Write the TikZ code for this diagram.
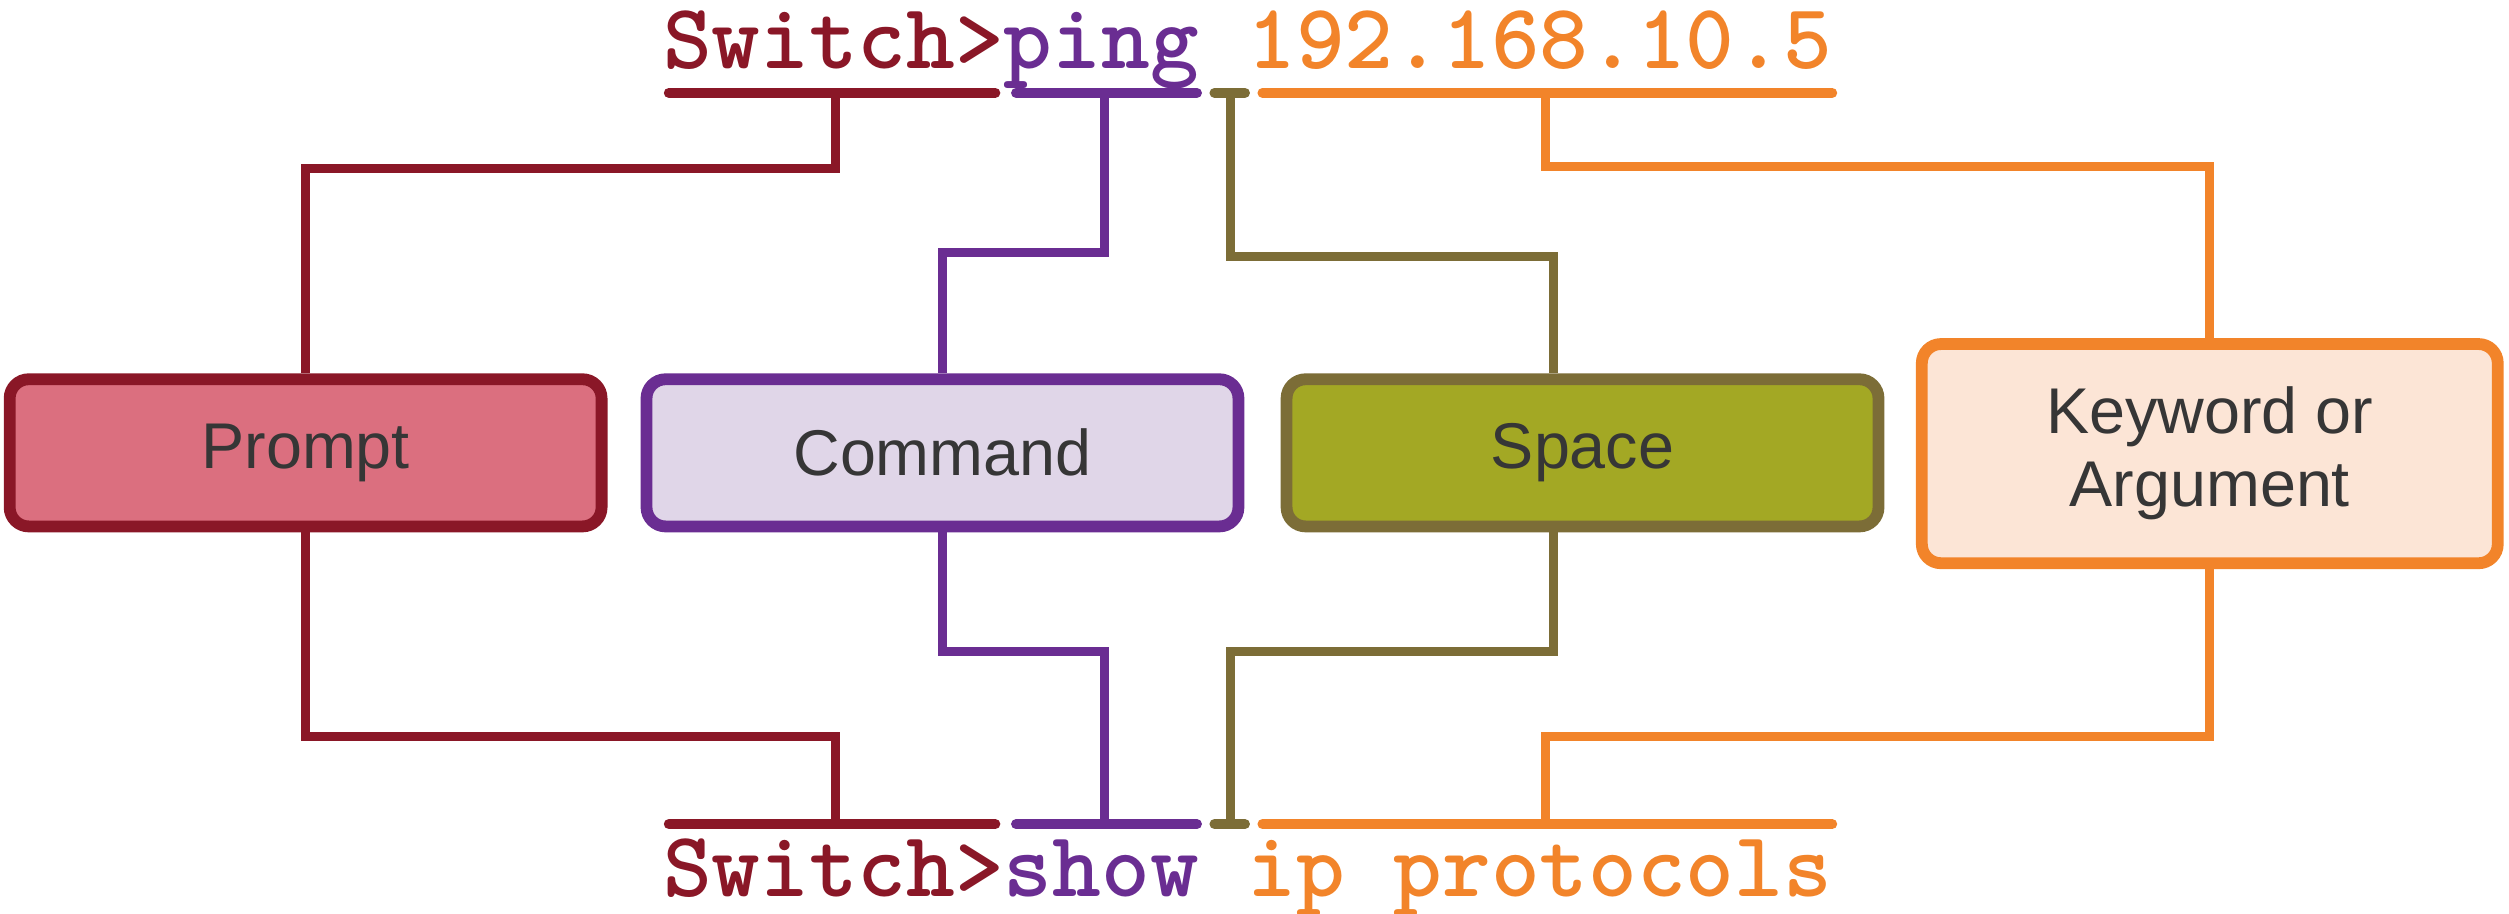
\documentclass[tikz,border=0pt]{standalone}
\usepackage{fontspec}
\newfontfamily\labfont{Liberation Sans}
\definecolor{cRed}{HTML}{8A1727}
\definecolor{fRed}{HTML}{DB6F7F}
\definecolor{cPur}{HTML}{6A2D92}
\definecolor{fPur}{HTML}{E0D6E8}
\definecolor{cOli}{HTML}{7C6D37}
\definecolor{fOli}{HTML}{A3A824}
\definecolor{cOr}{HTML}{F2842A}
\definecolor{fOr}{HTML}{FCE5D6}
\definecolor{labgray}{HTML}{363636}
\begin{document}
\begin{tikzpicture}[x=0.02cm,y=-0.02cm,
  box/.style={rounded corners=6.8pt, line width=4.2pt, inner sep=0pt, align=center,
    text=labgray, font=\labfont\fontsize{23}{26}\selectfont,
    minimum width=7.40cm, minimum height=1.84cm},
  conn/.style={line width=3.2pt},
  uline/.style={line width=3.6pt, line cap=round},
  ttxt/.style={inner sep=0pt, font=\ttfamily\bfseries\fontsize{33}{33}\selectfont}]
\useasboundingbox (0,0) rectangle (1568,571);
% boxes
\node[box, draw=cRed, fill=fRed] (prompt) at (191,283) {Prompt};
\node[box, draw=cPur, fill=fPur] (command) at (589,283) {Command};
\node[box, draw=cOli, fill=fOli] (space) at (989,283) {Space};
\node[box, draw=cOr, fill=fOr, minimum width=7.20cm, minimum height=2.74cm] (keyword) at (1381,283.5) {Keyword or\\Argument};
% texts
\node[ttxt, anchor=base west] (top) at (414,43) {\textcolor{cRed}{Switch>}\textcolor{cPur}{ping} \textcolor{cOr}{192.168.10.5}};
\node[ttxt, anchor=base west] (bot) at (414,560) {\textcolor{cRed}{Switch>}\textcolor{cPur}{show} \textcolor{cOr}{ip protocols}};
% top underline
\coordinate (trA) at (418,58); \coordinate (trB) at (622,58);
\coordinate (tpA) at (635,58); \coordinate (tpB) at (748,58);
\coordinate (toA) at (759,58); \coordinate (toB) at (778,58);
\coordinate (taA) at (789,58); \coordinate (taB) at (1145,58);
\draw[uline, cRed] (trA) -- (trB);
\draw[uline, cPur] (tpA) -- (tpB);
\draw[uline, cOli] (toA) -- (toB);
\draw[uline, cOr] (taA) -- (taB);
% bottom underline
\coordinate (brA) at (418,515); \coordinate (brB) at (622,515);
\coordinate (bpA) at (635,515); \coordinate (bpB) at (748,515);
\coordinate (boA) at (759,515); \coordinate (boB) at (778,515);
\coordinate (baA) at (789,515); \coordinate (baB) at (1145,515);
\draw[uline, cRed] (brA) -- (brB);
\draw[uline, cPur] (bpA) -- (bpB);
\draw[uline, cOli] (boA) -- (boB);
\draw[uline, cOr] (baA) -- (baB);
% attach points
\coordinate (trT) at (522,58); \coordinate (tpT) at (690,58);
\coordinate (toT) at (769,58); \coordinate (taT) at (966,58);
\coordinate (brT) at (522,515); \coordinate (bpT) at (690,515);
\coordinate (boT) at (769,515); \coordinate (baT) at (966,515);
\coordinate (sx) at (971,160);
\coordinate (sxb) at (971,407);
% top connectors
\draw[conn, cRed] (trT) -- (522,105) -| (prompt.north);
\draw[conn, cPur] (tpT) -- (690,158) -| (command.north);
\draw[conn, cOli] (toT) |- (sx) -- (sx |- space.north);
\draw[conn, cOr] (taT) -- (966,104) -| (keyword.north);
% bottom connectors
\draw[conn, cRed] (prompt.south) |- (522,460) -- (brT);
\draw[conn, cPur] (command.south) |- (690,407) -- (bpT);
\draw[conn, cOli] (sxb |- space.south) -- (sxb) -| (boT);
\draw[conn, cOr] (keyword.south) |- (966,460) -- (baT);
\end{tikzpicture}
\end{document}
